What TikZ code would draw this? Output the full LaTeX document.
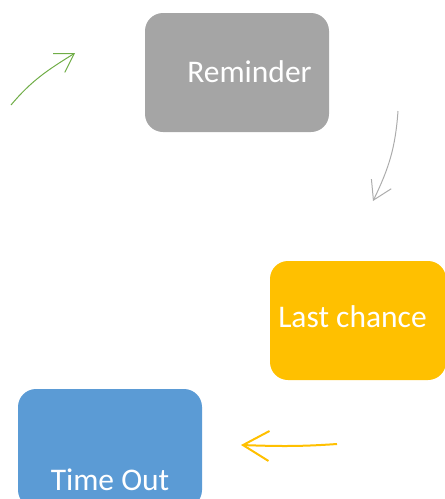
\documentclass[tikz,border=0pt]{standalone}
\usepackage{fontspec}
\setmainfont{Carlito}
\usetikzlibrary{arrows.meta}
\definecolor{remgray}{HTML}{A5A5A5}
\definecolor{lastyel}{HTML}{FFC000}
\definecolor{toblue}{HTML}{5B9BD5}
\definecolor{argreen}{HTML}{70AD47}
\definecolor{argray}{HTML}{ACACAC}
\tikzset{
  x=1pt, y=1pt,
  box/.style={rounded corners=18pt, draw=none, minimum width=184pt, minimum height=119pt, inner sep=0pt},
  lbl/.style={text=white, font=\fontsize{31.5}{38}\selectfont, inner sep=0pt},
  flow/.style={line width=1pt, -{Straight Barb[length=18pt, width=22pt]}},
  bigflow/.style={line width=2pt, -{Straight Barb[length=26pt, width=30pt]}},
}
\begin{document}
\begin{tikzpicture}
\useasboundingbox (0,0) rectangle (445,-499);
\clip (0,0) rectangle (445,-499);
% boxes
\node[box, fill=remgray] (rem) at (237,-72.5) {};
\node[lbl] (remt) at (249.5,-72) {Reminder};
\node[box, fill=lastyel, minimum width=176pt] (last) at (358,-320.5) {};
\node[lbl] (lastt) at (352.5,-317) {Last chance};
\node[box, fill=toblue] (tout) at (110,-448.5) {};
\node[lbl] (toutt) at (110,-480) {Time Out};
% arrow end points
\coordinate (g1) at (11,-105);
\coordinate (g2) at (75,-53);
\coordinate (r1) at (398,-111);
\coordinate (r2) at (373,-201);
\coordinate (y1) at (337,-444);
\coordinate (y2) at (241,-445);
\draw[flow, argreen] (g1) to[out=50, in=212] (g2);
\draw[flow, argray] (r1) to[out=-94, in=64] (r2);
\draw[bigflow, lastyel] (y1) to[out=184, in=-2] (y2);
\end{tikzpicture}
\end{document}
